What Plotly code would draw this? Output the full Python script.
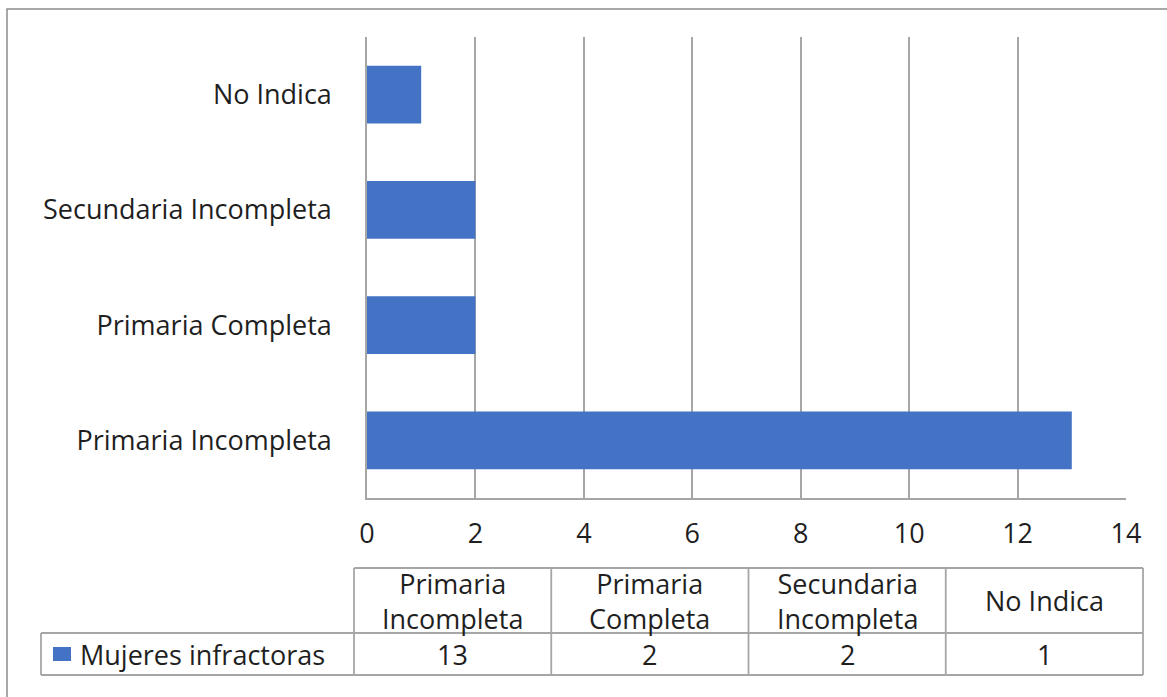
import plotly.graph_objects as go

# ---- data ----
categories = ["Primaria Incompleta", "Primaria Completa", "Secundaria Incompleta", "No Indica"]
header_labels = ["Primaria<br>Incompleta", "Primaria<br>Completa", "Secundaria<br>Incompleta", "No Indica"]
values = [13, 2, 2, 1]
series_name = "Mujeres infractoras"
x_ticks = [0, 2, 4, 6, 8, 10, 12, 14]

# ---- layout constants (pixels) ----
W, H = 1167, 697
L, R, T, B = 367, 1126, 37, 498
BAR_COLOR = "#4472C4"
GRID = "#a6a6a6"
TXT = "#1f1f1f"
FONT = "Open Sans"
FS = 27


def px(x):
    return (x - L) / (R - L)


def py(y):
    return (B - y) / (B - T)


fig = go.Figure(
    go.Bar(
        y=categories,
        x=values,
        orientation="h",
        marker=dict(color=BAR_COLOR, line=dict(width=0)),
        name=series_name,
    )
)

fig.update_layout(
    width=W,
    height=H,
    margin=dict(l=L, r=W - R, t=T, b=H - B, pad=0),
    paper_bgcolor="white",
    plot_bgcolor="white",
    showlegend=False,
    bargap=0.5,
    font=dict(family=FONT, size=FS, color=TXT),
)
fig.update_xaxes(
    range=[0, 14],
    tickvals=x_ticks,
    showgrid=True,
    gridcolor=GRID,
    gridwidth=1.5,
    zeroline=False,
    showline=True,
    linecolor=GRID,
    linewidth=1.5,
    ticks="",
    ticklabelstandoff=11,
    tickfont=dict(family=FONT, size=FS, color=TXT),
)
fig.update_yaxes(
    showgrid=False,
    zeroline=False,
    showline=True,
    linecolor=GRID,
    linewidth=1.5,
    ticks="",
    ticklabelstandoff=28,
    tickfont=dict(family=FONT, size=FS, color=TXT),
)

shapes = []
annotations = []

# outer chart-area border (extends beyond the captured window on right/bottom)
shapes.append(dict(type="rect", xref="paper", yref="paper",
                   x0=px(7), x1=px(1185), y0=py(9), y1=py(715),
                   line=dict(color="#8c8c8c", width=1.5), fillcolor="rgba(0,0,0,0)", layer="below"))

# data table
tl, tr = 354, 1143
top, mid, bot = 568, 633, 675
leg_left = 41
n = len(categories)
cw = (tr - tl) / n
line = dict(color=GRID, width=1.8)


def hline(y, x0, x1):
    shapes.append(dict(type="line", xref="paper", yref="paper",
                       x0=px(x0), x1=px(x1), y0=py(y), y1=py(y), line=line))


def vline(x, y0, y1):
    shapes.append(dict(type="line", xref="paper", yref="paper",
                       x0=px(x), x1=px(x), y0=py(y0), y1=py(y1), line=line))


hline(top, tl, tr)
hline(mid, leg_left, tr)
hline(bot, leg_left, tr)
vline(leg_left, mid, bot)
for i in range(n + 1):
    vline(tl + i * cw, top, bot)

for i, (lab, v) in enumerate(zip(header_labels, values)):
    cx = tl + (i + 0.5) * cw
    annotations.append(dict(xref="paper", yref="paper", x=px(cx), y=py((top + mid) / 2),
                            text=lab, showarrow=False, xanchor="center", yanchor="middle",
                            align="center", borderpad=0,
                            font=dict(family=FONT, size=FS, color=TXT)))
    annotations.append(dict(xref="paper", yref="paper", x=px(cx), y=py((mid + bot) / 2),
                            text=str(v), showarrow=False, xanchor="center", yanchor="middle",
                            font=dict(family=FONT, size=FS, color=TXT)))

# legend key in table
shapes.append(dict(type="rect", xref="paper", yref="paper",
                   x0=px(53), x1=px(71), y0=py(661), y1=py(647),
                   line=dict(width=0), fillcolor=BAR_COLOR))
annotations.append(dict(xref="paper", yref="paper", x=px(78), y=py((mid + bot) / 2),
                        text=series_name, showarrow=False, xanchor="left", yanchor="middle",
                        font=dict(family=FONT, size=FS, color=TXT)))

fig.update_layout(shapes=shapes, annotations=annotations)

fig.write_html("out.html")
